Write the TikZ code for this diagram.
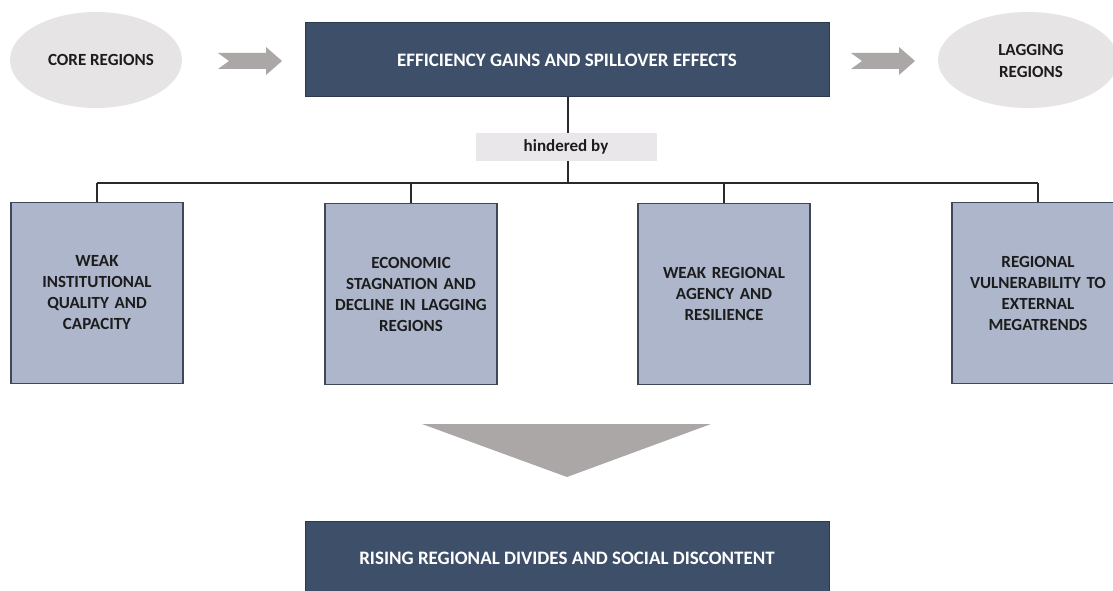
\documentclass[tikz,border=0pt]{standalone}
\usepackage{fontspec}
\setmainfont{Carlito}
\begin{document}
\begin{tikzpicture}[x=1pt,y=-1pt,
  darkbox/.style={draw=navyline,fill=navy,line width=1pt,text=white,font=\bfseries\fontsize{19}{22}\selectfont,inner sep=0pt},
  lightbox/.style={draw=boxline,fill=boxfill,line width=1.2pt,text=textdark,font=\bfseries\fontsize{17}{21}\selectfont,align=center,inner sep=0pt,minimum width=172pt,minimum height=181pt,text width=164pt},
  ovaltext/.style={text=textdark,font=\bfseries\fontsize{17}{22}\selectfont,align=center},
  conn/.style={draw=lineblk,line width=1.2pt},
  bigarrow/.style={fill=arrowgray,draw=none}
]
\definecolor{navy}{HTML}{3E4F69}
\definecolor{navyline}{HTML}{2C384B}
\definecolor{boxfill}{HTML}{ADB6CB}
\definecolor{boxline}{HTML}{3F4859}
\definecolor{ovalfill}{HTML}{E6E4E5}
\definecolor{hindfill}{HTML}{E9E7E9}
\definecolor{arrowgray}{HTML}{ABA7A7}
\definecolor{textdark}{HTML}{1C1C1C}
\definecolor{lineblk}{HTML}{2A2A2A}
\useasboundingbox (0,0) rectangle (1113,591);
\begin{scope}
\clip (0,0) rectangle (1113,591);
% ovals
\fill[ovalfill] (96,60) ellipse [x radius=86, y radius=48];
\node[ovaltext] (core) at (101,60) {CORE REGIONS};
\fill[ovalfill] (1028,60) ellipse [x radius=90, y radius=48];
\node[ovaltext] (lag) at (1031,61) {LAGGING\\REGIONS};
% main box
\node[darkbox,minimum width=524pt,minimum height=74pt] (main) at (567,60) {EFFICIENCY GAINS AND SPILLOVER EFFECTS};
% side arrows
\fill[bigarrow] (218,53) -- (266,53) -- (266,47) -- (282,61) -- (266,75) -- (266,69) -- (218,69) -- (229,61) -- cycle;
\fill[bigarrow] (851,53) -- (899,53) -- (899,47) -- (915,61) -- (899,75) -- (899,69) -- (851,69) -- (862,61) -- cycle;
% hindered by
\node[fill=hindfill,minimum width=181pt,minimum height=28pt,inner sep=0pt,font=\bfseries\fontsize{17}{20}\selectfont,text=textdark] (hind) at (566,147) {hindered by};
% boxes
\node[lightbox] (b1) at (97,293) {WEAK\\INSTITUTIONAL\\QUALITY AND\\CAPACITY};
\node[lightbox] (b2) at (411,294) {ECONOMIC\\STAGNATION AND\\DECLINE IN LAGGING\\REGIONS};
\node[lightbox] (b3) at (724,294) {WEAK REGIONAL\\AGENCY AND\\RESILIENCE};
\node[lightbox] (b4) at (1038,293) {REGIONAL\\VULNERABILITY TO\\EXTERNAL\\MEGATRENDS};
% connectors
\coordinate (j) at (568,183);
\coordinate (l) at (97,183);
\coordinate (r) at (1038,183);
\draw[conn] (main.south -| j) -- (hind.north -| j);
\draw[conn] (hind.south -| j) -- (j);
\draw[conn] (l) -- (r);
\draw[conn] (l) -- (b1.north);
\draw[conn] (b2.north |- j) -- (b2.north);
\draw[conn] (b3.north |- j) -- (b3.north);
\draw[conn] (r) -- (b4.north);
% down triangle
\fill[arrowgray] (422,424) -- (711,424) -- (567,477) -- cycle;
% bottom box
\node[darkbox,minimum width=524pt,minimum height=74pt] (bottom) at (567,558) {RISING REGIONAL DIVIDES AND SOCIAL DISCONTENT};
\end{scope}
\end{tikzpicture}
\end{document}
